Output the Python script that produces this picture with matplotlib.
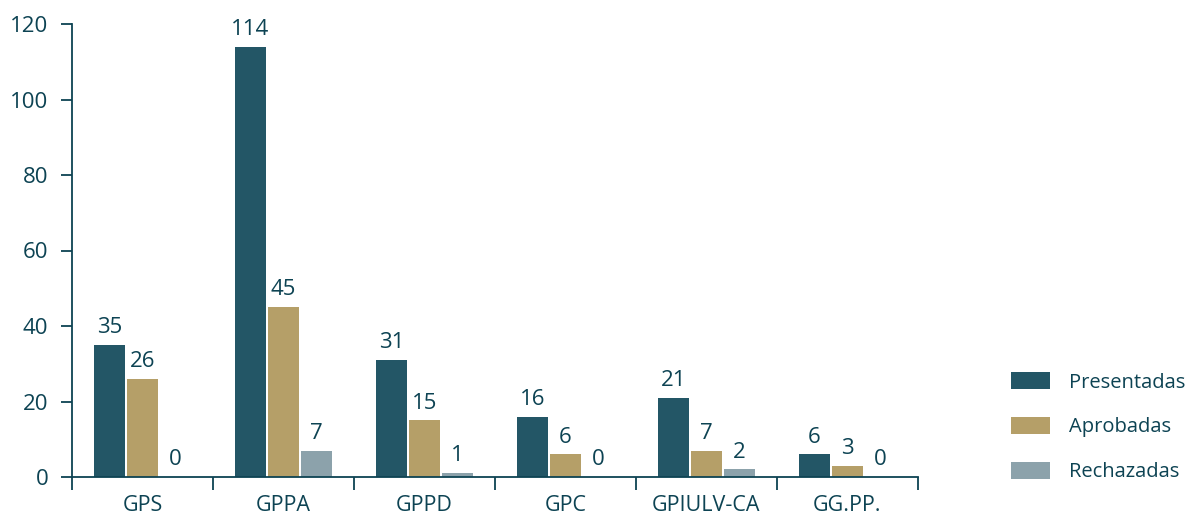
import matplotlib.pyplot as plt
import numpy as np

plt.rcParams['font.family'] = ['Open Sans', 'DejaVu Sans']

grupos = ['GPS', 'GPPA', 'GPPD', 'GPC', 'GPIULV-CA', 'GG.PP.']
presentadas = [35, 114, 31, 16, 21, 6]
aprobadas = [26, 45, 15, 6, 7, 3]
rechazadas = [0, 7, 1, 0, 2, 0]
series = ['Presentadas', 'Aprobadas', 'Rechazadas']

colores = ['#235666', '#B59F68', '#8CA2AB']
texto = '#0D4353'

fig = plt.figure(figsize=(11.89, 5.16), dpi=100)
ax = fig.add_axes([72/1189, 1-477/516, (918-72)/1189, (477-24)/516])

x = np.arange(len(grupos))
w = 0.213
off = 0.234
for i, (vals, nombre) in enumerate(zip([presentadas, aprobadas, rechazadas], series)):
    pos = x + (i - 1) * off
    ax.bar(pos, vals, width=w, color=colores[i], label=nombre)
    for p, v in zip(pos, vals):
        ax.text(p, v + 1.8, str(v), ha='center', va='bottom', fontsize=16,
                color=texto, fontweight='medium')

ax.set_xlim(-0.5, len(grupos) - 0.5)
ax.set_ylim(0, 120)
ax.set_yticks(range(0, 121, 20))
ax.set_xticks(x)
ax.set_xticklabels(grupos)
ax.set_xticks(np.arange(-0.5, len(grupos), 1), minor=True)
ax.tick_params(axis='x', which='major', length=0, pad=13, labelsize=15.5, colors=texto)
ax.tick_params(axis='x', which='minor', length=9, width=1.3, color=texto)
ax.tick_params(axis='y', length=8, width=1.3, pad=9, labelsize=16, colors=texto)
for lab in ax.get_xticklabels() + ax.get_yticklabels():
    lab.set_fontweight('medium')

for s in ['top', 'right']:
    ax.spines[s].set_visible(False)
for s in ['left', 'bottom']:
    ax.spines[s].set_color(texto)
    ax.spines[s].set_linewidth(1.3)

leg = fig.legend(loc='upper left', bbox_to_anchor=(1003/1189, 1-364/516), frameon=False,
                 fontsize=14.5, handlelength=1.95, handleheight=0.95, labelspacing=1.2,
                 handletextpad=0.95, borderaxespad=0)
for t in leg.get_texts():
    t.set_color(texto)
    t.set_fontweight('medium')

fig.savefig('out.png', dpi=100)
